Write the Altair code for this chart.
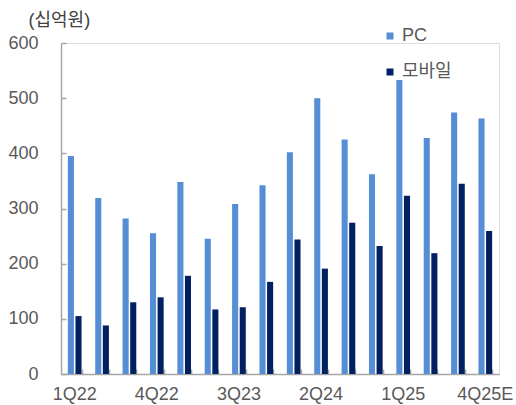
import altair as alt
import pandas as pd

quarters = ["1Q22", "2Q22", "3Q22", "4Q22", "1Q23", "2Q23", "3Q23", "4Q23",
            "1Q24", "2Q24", "3Q24", "4Q24", "1Q25", "2Q25", "3Q25", "4Q25E"]
pc = [395, 319, 282, 255, 348, 245, 308, 342, 402, 500, 425, 362, 533, 428, 474, 463]
mobile = [105, 88, 130, 139, 178, 117, 121, 167, 244, 191, 274, 232, 323, 219, 345, 259]
series = ["PC", "모바일"]
label_quarters = ["1Q22", "4Q22", "3Q23", "2Q24", "1Q25", "4Q25E"]
y_ticks = [0, 100, 200, 300, 400, 500, 600]

rows = []
for q, a, b in zip(quarters, pc, mobile):
    rows.append({"q": q, "series": "PC", "v": a})
    rows.append({"q": q, "series": "모바일", "v": b})
df = pd.DataFrame(rows)

FONT = "Liberation Sans, Arial, Noto Sans CJK KR"
GRAY = "#595959"
AX = "#A6A6A6"

x_scale = alt.Scale(domain=quarters, paddingInner=0.5, paddingOuter=0.25)
y_scale = alt.Scale(domain=[0, 600], nice=False)
off_scale = alt.Scale(domain=series, paddingInner=0.2)
color_scale = alt.Scale(domain=series, range=["#558ED5", "#002060"])

label_expr = ("indexof([" + ",".join(f"'{q}'" for q in label_quarters)
              + "], datum.value) >= 0 ? datum.value : ''")

bars = alt.Chart(df).mark_bar().encode(
    x=alt.X("q:N", scale=x_scale, sort=quarters,
            axis=alt.Axis(orient="bottom", title=None, labelAngle=0, labelExpr=label_expr,
                          ticks=False, tickSize=0, domainColor=AX, domainWidth=1.5,
                          labelColor=GRAY, labelFontSize=18, labelFont=FONT,
                          labelPadding=11, labelOverlap=False, grid=False)),
    xOffset=alt.XOffset("series:N", scale=off_scale, sort=series),
    y=alt.Y("v:Q", scale=y_scale,
            axis=alt.Axis(orient="left", values=y_ticks, title="(십억원)", titleAngle=0,
                          titleX=-33, titleY=-18, titleAlign="left", titleBaseline="alphabetic",
                          titleFont=FONT, titleFontSize=18, titleFontWeight="normal",
                          titleColor="#404040", ticks=False, tickSize=0, labelPadding=23,
                          labelFont=FONT, labelFontSize=18, labelColor=GRAY,
                          domainColor=AX, domainWidth=1.5, grid=False)),
    color=alt.Color("series:N", scale=color_scale, sort=series,
                    legend=alt.Legend(orient="none", legendX=320, legendY=-16, title=None,
                                      symbolType="square", symbolSize=49, symbolStrokeWidth=0,
                                      labelFont=FONT, labelFontSize=18, labelColor=GRAY,
                                      rowPadding=18, labelOffset=3, padding=0)),
)

tick_layer = alt.Chart(df).mark_bar(opacity=0).encode(
    x=alt.X("q:N", scale=x_scale, sort=quarters,
            axis=alt.Axis(orient="bottom", offset=-5, domain=False, labels=False, ticks=True,
                          tickSize=5, tickBand="extent", tickColor=AX, tickWidth=1.5,
                          title=None, grid=False)),
    xOffset=alt.XOffset("series:N", scale=off_scale, sort=series),
    y=alt.Y("v:Q", scale=y_scale,
            axis=alt.Axis(orient="left", offset=-5, domain=False, labels=False, ticks=True,
                          tickSize=5, values=y_ticks, tickColor=AX, tickWidth=1.5,
                          title=None, grid=False)),
)

chart = alt.layer(bars, tick_layer).resolve_axis(x="independent", y="independent").properties(
    width=438, height=331,
    autosize=alt.AutoSizeParams(type="none"),
    padding={"left": 61, "top": 43, "right": 17, "bottom": 31},
).configure_view(stroke=None).configure(background="white")

chart.save("out.html", embed_options={"renderer": "svg", "actions": False})
